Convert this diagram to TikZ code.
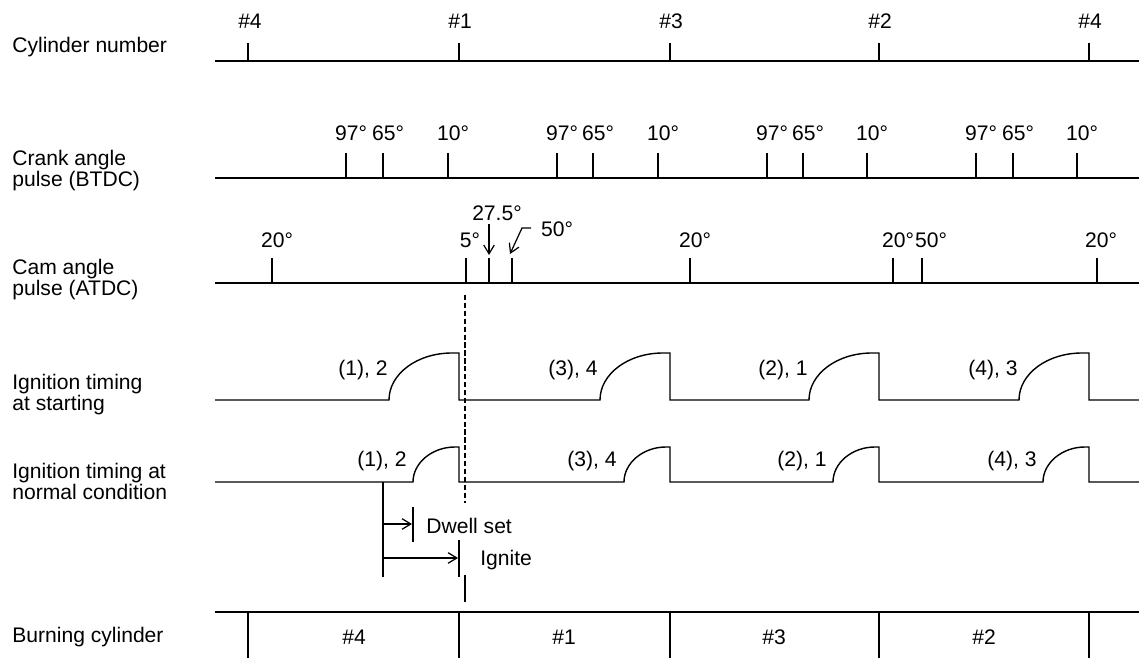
\documentclass[tikz,border=0pt]{standalone}
\usepackage{fontspec}
\setmainfont{Liberation Sans}
\usetikzlibrary{arrows.meta}

\begin{document}
\begin{tikzpicture}[x=0.02cm,y=-0.02cm,
  rowlbl/.style={anchor=west,align=left,inner sep=0pt,font=\fontsize{12}{12}\selectfont},
  txt/.style={inner sep=0pt,font=\fontsize{12}{12}\selectfont},
  axis/.style={line width=0.8pt},
  tick/.style={line width=1.3pt},
  thintick/.style={line width=0.8pt},
  wave/.style={line width=0.8pt,line join=miter},
  ptr/.style={-{Straight Barb[length=5pt,width=6pt]},line width=0.7pt},
  guide/.style={dash pattern=on 3pt off 1.5pt,line width=0.6pt}
]
\useasboundingbox (0,0) rectangle (1139,658);
\node[rowlbl] (lcyl) at (12,47) {Cylinder number};
\node[rowlbl] (lcrank) at (12,170.5) {Crank angle\\pulse (BTDC)};
\node[rowlbl] (lcam) at (12,279.5) {Cam angle\\pulse (ATDC)};
\node[rowlbl] (lstart) at (12,394.5) {Ignition timing\\at starting};
\node[rowlbl] (lnorm) at (12,481.5) {Ignition timing at\\normal condition};
\node[rowlbl] (lburn) at (12,637) {Burning cylinder};
\draw[axis] (215,61) -- (1139,61);
\draw[tick] (248,43) -- (248,61) (459,43) -- (459,61) (670,43) -- (670,61)
  (879,43) -- (879,61) (1089,43) -- (1089,61);
\node[txt] (cyl4a) at (250,21) {\#4};
\node[txt] (cyl1) at (460,21) {\#1};
\node[txt] (cyl3) at (671,21) {\#3};
\node[txt] (cyl2) at (880,21) {\#2};
\node[txt] (cyl4b) at (1090,21) {\#4};
\draw[axis] (215,178) -- (1139,178);
\draw[tick] (346,153) -- (346,178) (383,153) -- (383,178) (448,153) -- (448,178)
  (557,153) -- (557,178) (593,153) -- (593,178) (658,153) -- (658,178)
  (767,153) -- (767,178) (803,153) -- (803,178) (867,153) -- (867,178)
  (976,153) -- (976,178) (1013,153) -- (1013,178) (1077,153) -- (1077,178);
\node[txt] (ka97) at (351,133) {97°};
\node[txt] (ka65) at (388,133) {65°};
\node[txt] (ka10) at (453,133) {10°};
\node[txt] (kb97) at (562,133) {97°};
\node[txt] (kb65) at (598,133) {65°};
\node[txt] (kb10) at (663,133) {10°};
\node[txt] (kc97) at (772,133) {97°};
\node[txt] (kc65) at (808,133) {65°};
\node[txt] (kc10) at (872,133) {10°};
\node[txt] (kd97) at (981,133) {97°};
\node[txt] (kd65) at (1018,133) {65°};
\node[txt] (kd10) at (1082,133) {10°};
\draw[axis] (215,283) -- (1139,283);
\draw[tick] (272,258) -- (272,283) (466,258) -- (466,283) (690,258) -- (690,283)
  (893,258) -- (893,283) (922,258) -- (922,283) (1097,258) -- (1097,283);
\draw[thintick] (489,258) -- (489,283) (512,258) -- (512,283);
\node[txt] (ma20) at (277,240) {20°};
\node[txt] (ma5) at (470,240) {5°};
\node[txt] (ma275) at (497,213) {27.5°};
\node[txt] (ma50) at (557,229) {50°};
\node[txt] (mb20) at (695,240) {20°};
\node[txt] (mc20) at (898,240) {20°};
\node[txt] (mc50) at (931,240) {50°};
\node[txt] (md20) at (1101,240) {20°};
\coordinate (p275) at (489,255);
\coordinate (p50) at (510,254);
\draw[ptr] (489,224) -- (p275);
\draw[ptr] (531,228) -- (522,228) -- (p50);
\draw[guide] (465,295) -- (465,503);
\draw[wave] (215,400) -- (389,400) .. controls +(0,-26) and +(-35,0) .. ++(63,-47)
  -- (459,353) -- (459,400) -- (600,400) .. controls +(0,-26) and +(-35,0) .. ++(63,-47)
  -- (670,353) -- (670,400) -- (809,400) .. controls +(0,-26) and +(-35,0) .. ++(63,-47)
  -- (879,353) -- (879,400) -- (1019,400) .. controls +(0,-26) and +(-35,0) .. ++(63,-47)
  -- (1089,353) -- (1089,400) -- (1139,400);
\node[txt,anchor=east] (sa) at (388,370) {(1), 2};
\node[txt,anchor=east] (sb) at (598,370) {(3), 4};
\node[txt,anchor=east] (sc) at (808,370) {(2), 1};
\node[txt,anchor=east] (sd) at (1018,370) {(4), 3};
\draw[wave] (215,482) -- (413,482) .. controls +(0,-19) and +(-23,0) .. ++(42,-35)
  -- (459,447) -- (459,482) -- (624,482) .. controls +(0,-19) and +(-23,0) .. ++(42,-35)
  -- (670,447) -- (670,482) -- (833,482) .. controls +(0,-19) and +(-23,0) .. ++(42,-35)
  -- (879,447) -- (879,482) -- (1043,482) .. controls +(0,-19) and +(-23,0) .. ++(42,-35)
  -- (1089,447) -- (1089,482) -- (1139,482);
\node[txt,anchor=east] (na) at (407,461) {(1), 2};
\node[txt,anchor=east] (nb) at (617,461) {(3), 4};
\node[txt,anchor=east] (nc) at (827,461) {(2), 1};
\node[txt,anchor=east] (nd) at (1037,461) {(4), 3};
\coordinate (dwl) at (383,524);
\coordinate (dwr) at (412,524);
\coordinate (igl) at (383,558);
\coordinate (igr) at (458,558);
\draw[axis] (383,482) -- (383,577);
\draw[axis] (413,507) -- (413,542);
\draw[axis] (459,540) -- (459,577);
\draw[ptr] (dwl) -- (dwr);
\draw[ptr] (igl) -- (igr);
\node[txt,anchor=west] (dwell) at (426,526) {Dwell set};
\node[txt,anchor=west] (ignite) at (480,560) {Ignite};
\draw[tick] (465,575) -- (465,602);
\draw[axis] (215,612) -- (1139,612);
\draw[tick] (248,612) -- (248,658) (459,612) -- (459,658) (670,612) -- (670,658)
  (879,612) -- (879,658) (1089,612) -- (1089,658);
\node[txt] (burn4) at (354,637) {\#4};
\node[txt] (burn1) at (564,637) {\#1};
\node[txt] (burn3) at (774,637) {\#3};
\node[txt] (burn2) at (984,637) {\#2};
\end{tikzpicture}
\end{document}
